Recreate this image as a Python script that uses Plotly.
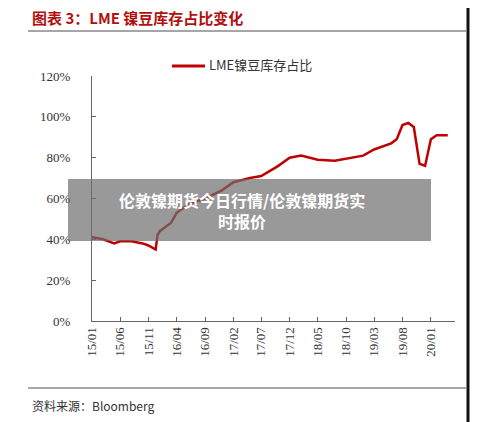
import plotly.graph_objects as go

months = ["2015-01", "2015-03", "2015-05", "2015-06", "2015-08", "2015-10", "2015-11",
          "2015-12-10", "2015-12-20", "2016-01", "2016-03", "2016-04", "2016-06",
          "2016-09", "2016-12", "2017-02", "2017-05", "2017-07", "2017-10", "2017-12",
          "2018-02", "2018-05", "2018-08", "2018-10", "2019-01", "2019-03", "2019-06",
          "2019-07", "2019-08", "2019-09", "2019-10", "2019-11", "2019-12", "2020-01",
          "2020-02", "2020-04"]
ratio = [41, 40, 38, 39, 39, 38, 37, 35, 42, 44, 48, 53, 57, 60, 64, 68, 70, 71, 76, 80,
         81, 79, 78.5, 79.5, 81, 84, 87, 89, 96, 97, 95, 77, 76, 89, 91, 91]

tick_dates = ["2015-01", "2015-06", "2015-11", "2016-04", "2016-09", "2017-02", "2017-07",
              "2017-12", "2018-05", "2018-10", "2019-03", "2019-08", "2020-01"]
tick_labels = ["15/01", "15/06", "15/11", "16/04", "16/09", "17/02", "17/07",
               "17/12", "18/05", "18/10", "19/03", "19/08", "20/01"]
y_ticks = [0, 20, 40, 60, 80, 100, 120]

serif = "Liberation Serif"
W, H = 363, 245  # plot area in px
# the page puts the figure 8px in from the top-left corner, so offset for it
OFF = 8


def px_x(x):
    return (x - 92) / W


def px_y(y):
    return (321 - y) / H


fig = go.Figure()
fig.add_trace(go.Scatter(x=months, y=ratio, mode="lines", name="LME镍豆库存占比",
                         line=dict(color="#c00000", width=2.5)))

fig.update_layout(
    width=500 - OFF, height=422 - OFF,
    margin=dict(l=92 - OFF, r=45, t=76 - OFF, b=101),
    paper_bgcolor="white", plot_bgcolor="white",
    font=dict(family=serif, size=13, color="#333333"),
    showlegend=False,
    xaxis=dict(range=["2015-01-01", "2020-05-10"], tickvals=tick_dates, ticktext=tick_labels,
               tickangle=-90, ticks="inside", ticklen=4, showgrid=False, automargin=False,
               showline=True, linecolor="#666666", tickcolor="#666666",
               tickfont=dict(family=serif, size=13)),
    yaxis=dict(range=[0, 120], tickvals=y_ticks, ticktext=[f"{v}%" for v in y_ticks],
               ticks="inside", ticklen=4, showgrid=False, showline=True, automargin=False,
               linecolor="#666666", tickcolor="#666666", tickfont=dict(family=serif, size=13),
               ticklabelstandoff=18),
    shapes=[
        dict(type="line", xref="paper", yref="paper", x0=px_x(28), x1=px_x(466),
             y0=px_y(31), y1=px_y(31), line=dict(color="#888888", width=1.5)),
        dict(type="line", xref="paper", yref="paper", x0=px_x(28), x1=px_x(466),
             y0=px_y(388), y1=px_y(388), line=dict(color="#888888", width=1.5)),
        dict(type="line", xref="paper", yref="paper", x0=px_x(468), x1=px_x(468),
             y0=px_y(422), y1=px_y(8), line=dict(color="#111111", width=3)),
        dict(type="line", xref="paper", yref="paper", x0=px_x(172), x1=px_x(205),
             y0=px_y(66), y1=px_y(66), line=dict(color="#c00000", width=3)),
        dict(type="rect", xref="paper", yref="paper", x0=px_x(68), x1=px_x(431),
             y0=px_y(241), y1=px_y(179),
             fillcolor="rgba(110,110,110,0.7)", line=dict(width=0), layer="above"),
    ],
    annotations=[
        dict(text="<b>图表 3：LME 镍豆库存占比变化</b>", xref="paper", yref="paper",
             x=px_x(30), y=px_y(17), xanchor="left", yanchor="middle", showarrow=False,
             font=dict(family="Noto Sans CJK SC", size=15, color="#b01010")),
        dict(text="LME镍豆库存占比", xref="paper", yref="paper",
             x=px_x(207), y=px_y(65), xanchor="left", yanchor="middle", showarrow=False,
             font=dict(family="Noto Sans CJK SC", size=13, color="#333333")),
        dict(text="资料来源：Bloomberg", xref="paper", yref="paper",
             x=px_x(30), y=px_y(405), xanchor="left", yanchor="middle", showarrow=False,
             font=dict(family="Noto Sans CJK SC", size=12, color="#333333")),
        dict(text="<b>伦敦镍期货今日行情/伦敦镍期货实<br>时报价</b>", xref="paper", yref="paper",
             x=px_x(242), y=px_y(210), xanchor="center", yanchor="middle",
             showarrow=False, align="center",
             font=dict(family="Noto Sans CJK SC", size=16, color="white")),
    ],
)

fig.write_html("out.html")
